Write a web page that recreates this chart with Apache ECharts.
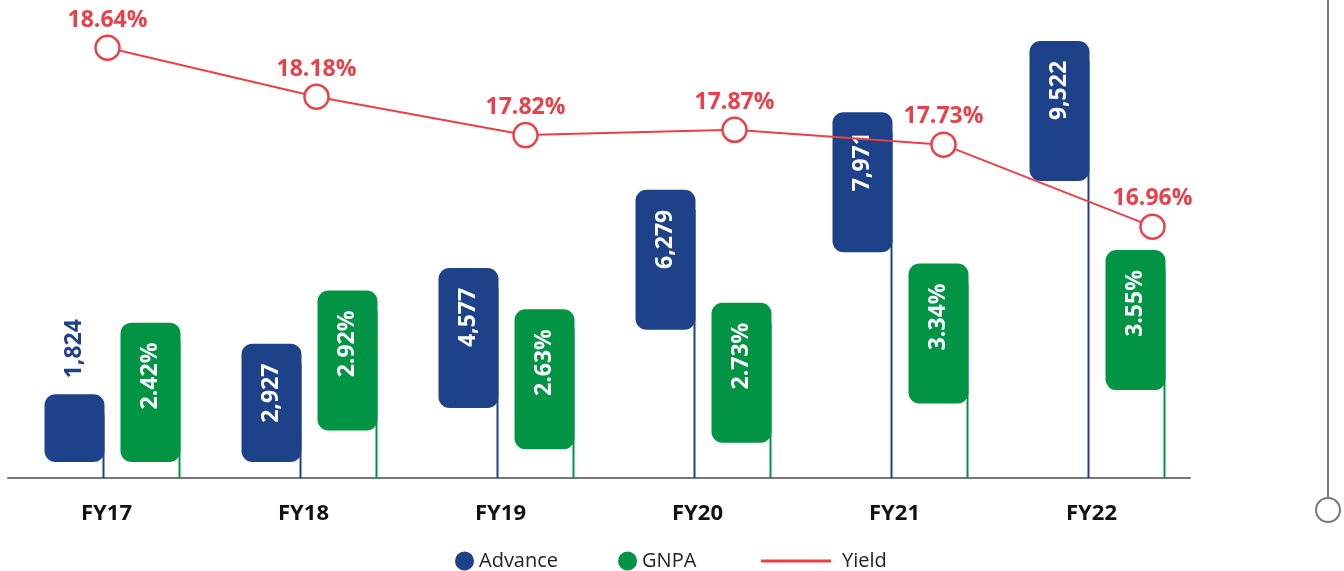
<!DOCTYPE html>
<html>
<head>
<meta charset="utf-8">
<title>Advance / GNPA / Yield</title>
<script src="https://cdn.jsdelivr.net/npm/echarts@6/dist/echarts.min.js"></script>
<style>
  html, body { margin: 0; padding: 0; background: #fff; }
  #myChart { width: 1344px; height: 571px; }
</style>
</head>
<body>
<div id="myChart"></div>
<script>
var years = ['FY17', 'FY18', 'FY19', 'FY20', 'FY21', 'FY22'];
var advance = [1824, 2927, 4577, 6279, 7971, 9522];
var gnpa = [2.42, 2.92, 2.63, 2.73, 3.34, 3.55];
var yieldPct = [18.64, 18.18, 17.82, 17.87, 17.73, 16.96];

var BLUE = '#1d428a', GREEN = '#009444', RED = '#e8414a', GREY = '#777777';
var FONT = 'Open Sans';

// draws one rounded box hanging on a thin stem down to the axis
function boxRenderer(color, left, labelFmt) {
    return function (params, api) {
        var idx = api.value(0);
        var val = api.value(1);
        var top = api.coord([idx, val]);
        var base = api.coord([idx, 0]);
        var x0 = top[0] + left;
        var w = 60;
        var y0 = top[1];
        var y1 = Math.min(y0 + 140, base[1] - 16);
        var h = y1 - y0;
        var txt = labelFmt(val);
        var inside = h > 80;
        return {
            type: 'group',
            children: [
                {
                    type: 'line',
                    shape: { x1: x0 + w - 1, y1: y0 + 20, x2: x0 + w - 1, y2: base[1] },
                    style: { stroke: color, lineWidth: 2 }
                },
                {
                    type: 'rect',
                    shape: { x: x0, y: y0, width: w, height: h, r: 11 },
                    style: { fill: color }
                },
                {
                    type: 'text',
                    x: x0 + w / 2,
                    y: inside ? y0 + 20 : y0 - 16,
                    rotation: Math.PI / 2,
                    style: {
                        text: txt,
                        fill: inside ? '#fff' : color,
                        font: 'bold 23px "' + FONT + '"',
                        align: inside ? 'right' : 'left',
                        verticalAlign: 'middle'
                    }
                }
            ]
        };
    };
}

var myChart = echarts.init(document.getElementById('myChart'));

var option = {
    animation: false,
    textStyle: { fontFamily: FONT },
    grid: [
        { left: 8, right: 154, top: 19, bottom: 93 },
        { left: 3, width: 1254, top: 19, bottom: 93 }
    ],
    legend: [
        {
            left: 450, top: 546,
            icon: 'circle', itemWidth: 19, itemHeight: 19, itemGap: 60,
            textStyle: { fontSize: 20, color: '#222', fontFamily: FONT },
            data: [
                { name: 'Advance', itemStyle: { color: BLUE } },
                { name: 'GNPA', itemStyle: { color: GREEN } }
            ]
        },
        {
            left: 756, top: 546,
            itemWidth: 70, itemHeight: 19,
            textStyle: { fontSize: 20, color: '#222', fontFamily: FONT, padding: [0, 0, 0, 6] },
            data: [{ name: 'Yield', icon: 'path://M0,8 L70,8 L70,11 L0,11 Z', itemStyle: { color: RED, borderWidth: 0 } }]
        }
    ],
    xAxis: [
        {
            type: 'category', gridIndex: 0, data: years,
            axisLine: { lineStyle: { color: GREY, width: 2 } },
            axisTick: { show: false },
            axisLabel: { fontSize: 22, fontWeight: 'bold', color: '#111', margin: 25, fontFamily: FONT }
        },
        { type: 'category', gridIndex: 1, data: years, show: false }
    ],
    yAxis: [
        { type: 'value', gridIndex: 0, min: 0, max: 10000, show: false },
        { type: 'value', gridIndex: 0, min: 0, max: 7.15, show: false },
        { type: 'value', gridIndex: 1, min: 14.6, max: 18.91, show: false }
    ],
    graphic: [
        {
            type: 'line',
            shape: { x1: 1328, y1: 0, x2: 1328, y2: 497 },
            style: { stroke: GREY, lineWidth: 2 }
        },
        {
            type: 'circle',
            shape: { cx: 1328, cy: 510, r: 12 },
            style: { stroke: GREY, lineWidth: 2, fill: '#fff' }
        }
    ],
    series: [
        {
            name: 'Advance', type: 'custom', xAxisIndex: 0, yAxisIndex: 0,
            itemStyle: { color: BLUE },
            encode: { x: 0, y: 1 },
            data: advance.map(function (v, i) { return [i, v]; }),
            renderItem: boxRenderer(BLUE, -62, function (v) { return v.toLocaleString('en-US'); }),
            z: 2
        },
        {
            name: 'GNPA', type: 'custom', xAxisIndex: 0, yAxisIndex: 1,
            itemStyle: { color: GREEN },
            encode: { x: 0, y: 1 },
            data: gnpa.map(function (v, i) { return [i, v]; }),
            renderItem: boxRenderer(GREEN, 14, function (v) { return v.toFixed(2) + '%'; }),
            z: 2
        },
        {
            name: 'Yield', type: 'line', xAxisIndex: 1, yAxisIndex: 2,
            data: yieldPct,
            symbol: 'circle', symbolSize: 24,
            itemStyle: { color: '#fff', borderColor: RED, borderWidth: 2.5 },
            lineStyle: { color: RED, width: 2 },
            label: {
                show: true, position: 'top', distance: 3,
                formatter: function (p) { return p.value.toFixed(2) + '%'; },
                color: RED, fontSize: 23, fontWeight: 'bold', fontFamily: FONT
            },
            z: 5
        }
    ]
};

myChart.setOption(option);
</script>
</body>
</html>
